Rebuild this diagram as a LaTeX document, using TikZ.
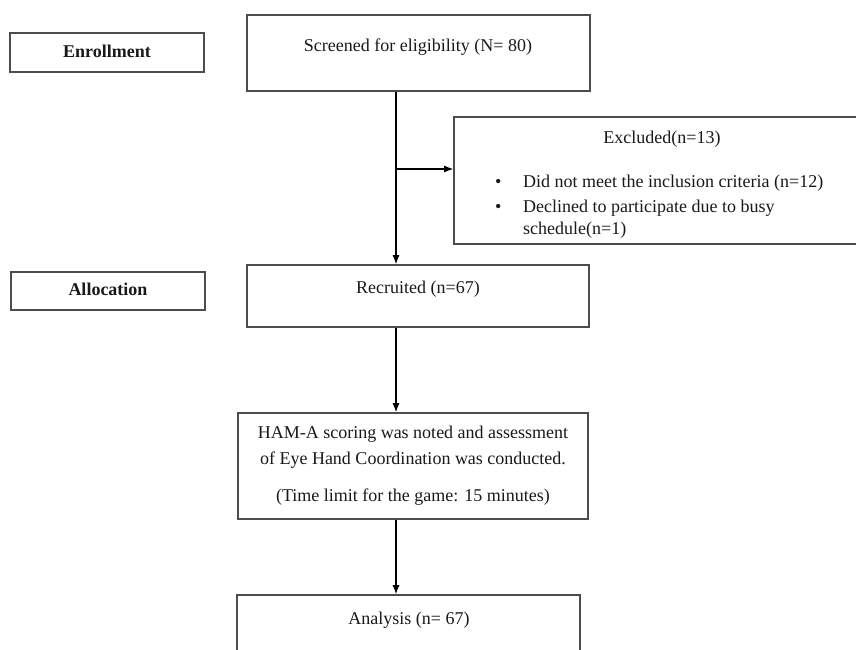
\documentclass[tikz,border=0pt]{standalone}
\usepackage{fontspec}
\setmainfont{Liberation Serif}
\usepackage{tikz}
\usetikzlibrary{
  arrows.meta,
  calc,
}
\tikzstyle{arrow} = [
  -{Latex[length=9pt,width=7pt]},
  line width=1.1pt,
  black,
]
\tikzstyle{box} = [
  draw=black!70,
  line width=1.6pt,
  rectangle,
  inner sep=0pt,
]
\tikzstyle{txt} = [
  inner sep=0pt,
  anchor=base,
]
\colorlet{textdark}{black!90}

\begin{document}
\begin{tikzpicture}[x=1pt,y=-1pt,font=\fontsize{18}{22}\selectfont,text=textdark]
        \useasboundingbox (0,0) rectangle (856,650);

        % stage labels on the left
        \node[box,minimum width=194,minimum height=39] (enr) at (107,52.5) {};
        \node[txt] (enrtxt) at (107,58) {\textbf{Enrollment}};
        \node[box,minimum width=194,minimum height=38] (alloc) at (108,291) {};
        \node[txt] (alloctxt) at (108,295) {\textbf{Allocation}};

        % flow boxes
        \node[box,minimum width=343,minimum height=76] (scr) at (418.5,53) {};
        \node[txt] (scrtxt) at (418,52) {Screened for eligibility (N= 80)};

        \node[box,minimum width=416,minimum height=127] (exc) at (662,180.5) {};
        \node[txt] (exctxt) at (662,143) {Excluded(n=13)};
        \node[anchor=north west,inner sep=0pt] (exclist) at (495,171.6) {%
          \begin{tabular}{@{}p{28pt}@{}l@{}}
            \textbullet & Did not meet the inclusion criteria (n=12)\\[3pt]
            \textbullet & Declined to participate due to busy\\
                        & schedule(n=1)
          \end{tabular}};

        \node[box,minimum width=342,minimum height=62] (rec) at (418,296) {};
        \node[txt] (rectxt) at (418,293) {Recruited (n=67)};

        \node[box,minimum width=350,minimum height=106] (ham) at (413,466) {};
        \node[anchor=north,inner sep=0pt,align=center] (hamtxt) at (413,425.5) {%
          HAM-A scoring was noted and assessment\\[4pt]
          of Eye Hand Coordination was conducted.\\[15pt]
          (Time limit for the game: 15 minutes)};

        \node[box,minimum width=343,minimum height=85] (ana) at (408.5,637.5) {};
        \node[txt] (anatxt) at (409,624) {Analysis (n= 67)};

        % connectors
        \coordinate (trunk) at (396,0);
        \coordinate (split) at (396,169);
        \draw[arrow] (scr.south -| trunk) -- (rec.north -| trunk);
        \draw[arrow] (split) -- (split -| exc.west);
        \draw[arrow] (rec.south -| trunk) -- (ham.north -| trunk);
        \draw[arrow] (ham.south -| trunk) -- (ana.north -| trunk);
    \end{tikzpicture}
\end{document}
